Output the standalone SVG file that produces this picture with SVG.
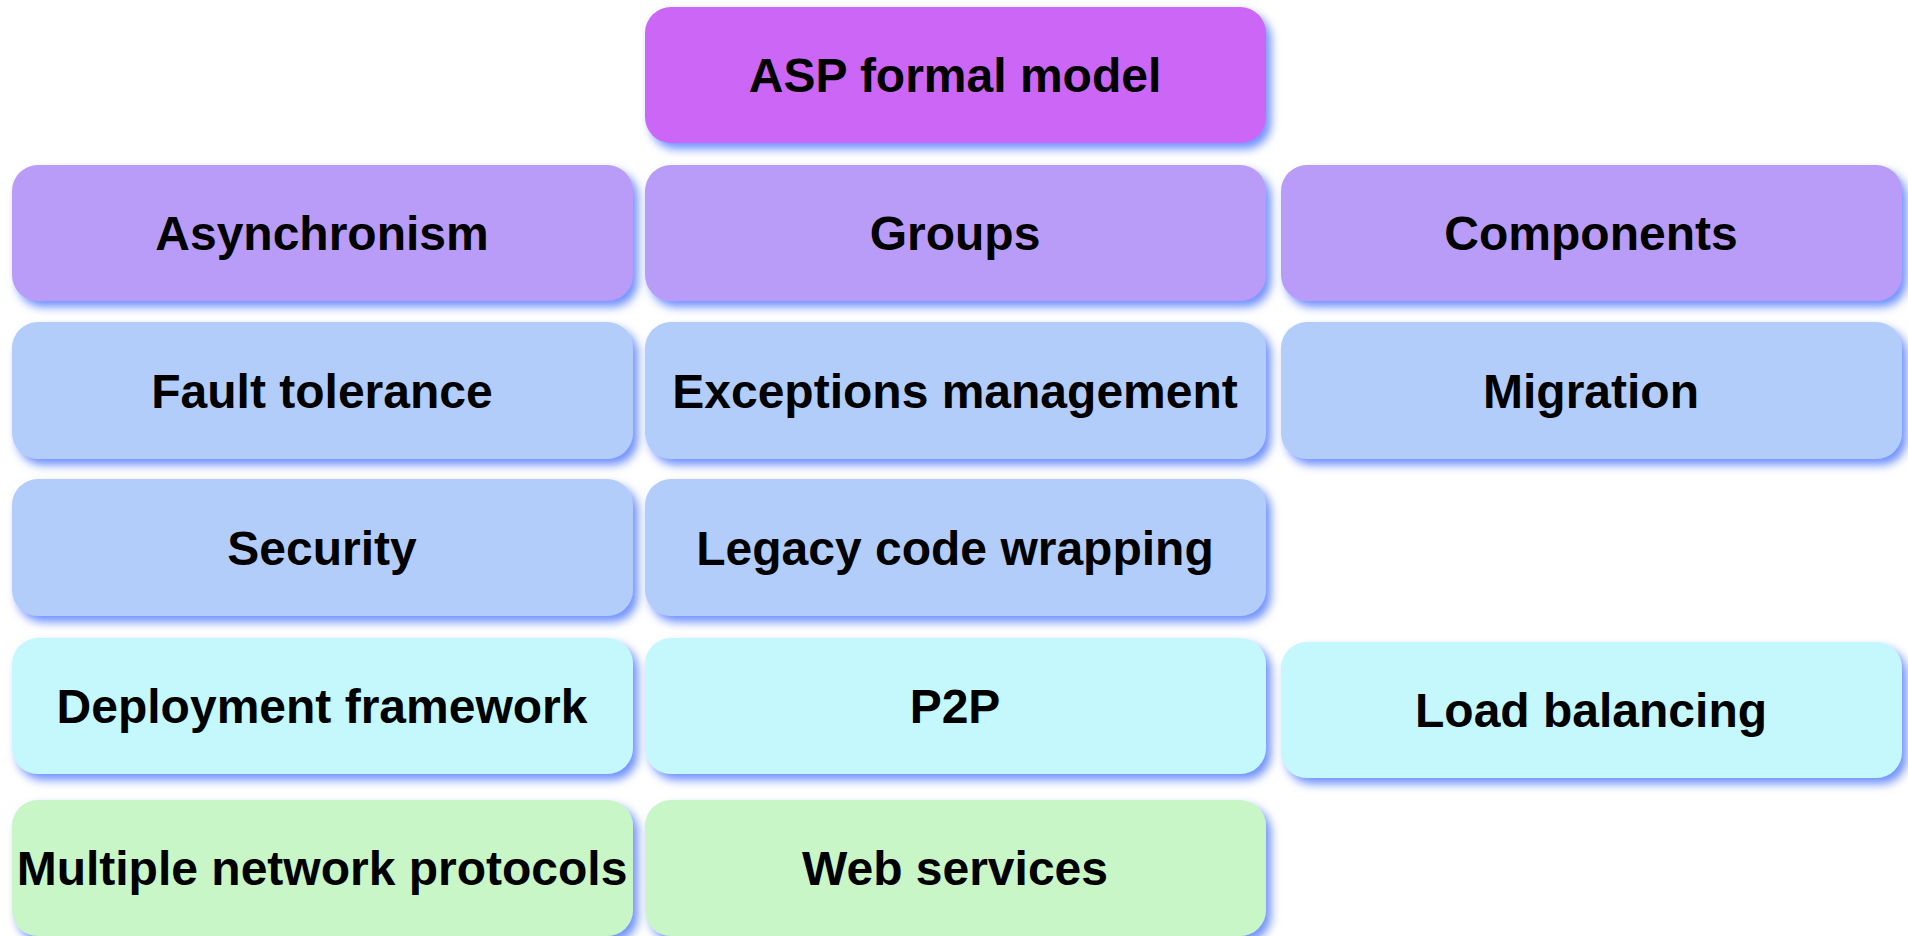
<svg xmlns="http://www.w3.org/2000/svg" width="1908" height="936" viewBox="0 0 1908 936">
  <defs>
    <!-- soft blue drop shadow shared by every box -->
    <filter id="shade" x="-5%" y="-10%" width="112%" height="130%">
      <feGaussianBlur in="SourceAlpha" stdDeviation="5" result="b"/>
      <feOffset in="b" dx="5" dy="6" result="o"/>
      <feFlood flood-color="#5f84ff" flood-opacity="0.9"/>
      <feComposite in2="o" operator="in" result="s"/>
      <feMerge>
        <feMergeNode in="s"/>
        <feMergeNode in="SourceGraphic"/>
      </feMerge>
    </filter>
  </defs>
  <style>
    .box { filter: url(#shade); }
    .lbl { font-family: "Liberation Sans", Arial, sans-serif; font-weight: bold; font-size: 48px; fill: #000; text-anchor: middle; }
    .top { fill: #cc66f6; }
    .l1 { fill: #b99cf8; }
    .l2 { fill: #b3cdfb; }
    .l3 { fill: #c4f8fd; }
    .l4 { fill: #c8f6c6; }
  </style>
  <rect width="1908" height="936" fill="#ffffff"/>

  <g id="asp-formal-model">
    <rect class="box top" x="645" y="7" width="621" height="136" rx="26"/>
    <text class="lbl" x="955" y="92">ASP formal model</text>
  </g>

  <g id="asynchronism">
    <rect class="box l1" x="12" y="165" width="621" height="136" rx="26"/>
    <text class="lbl" x="322" y="250">Asynchronism</text>
  </g>
  <g id="groups">
    <rect class="box l1" x="645" y="165" width="621" height="136" rx="26"/>
    <text class="lbl" x="955" y="250">Groups</text>
  </g>
  <g id="components">
    <rect class="box l1" x="1281" y="165" width="621" height="136" rx="26"/>
    <text class="lbl" x="1591" y="250">Components</text>
  </g>

  <g id="fault-tolerance">
    <rect class="box l2" x="12" y="322" width="621" height="137" rx="26"/>
    <text class="lbl" x="322" y="408">Fault tolerance</text>
  </g>
  <g id="exceptions-management">
    <rect class="box l2" x="645" y="322" width="621" height="137" rx="26"/>
    <text class="lbl" x="955" y="408">Exceptions management</text>
  </g>
  <g id="migration">
    <rect class="box l2" x="1281" y="322" width="621" height="137" rx="26"/>
    <text class="lbl" x="1591" y="408">Migration</text>
  </g>

  <g id="security">
    <rect class="box l2" x="12" y="479" width="621" height="137" rx="26"/>
    <text class="lbl" x="322" y="565">Security</text>
  </g>
  <g id="legacy-code-wrapping">
    <rect class="box l2" x="645" y="479" width="621" height="137" rx="26"/>
    <text class="lbl" x="955" y="565">Legacy code wrapping</text>
  </g>

  <g id="deployment-framework">
    <rect class="box l3" x="12" y="638" width="621" height="136" rx="26"/>
    <text class="lbl" x="322" y="723">Deployment framework</text>
  </g>
  <g id="p2p">
    <rect class="box l3" x="645" y="638" width="621" height="136" rx="26"/>
    <text class="lbl" x="955" y="723">P2P</text>
  </g>
  <g id="load-balancing">
    <rect class="box l3" x="1281" y="642" width="621" height="136" rx="26"/>
    <text class="lbl" x="1591" y="727">Load balancing</text>
  </g>

  <g id="multiple-network-protocols">
    <rect class="box l4" x="12" y="800" width="621" height="136" rx="26"/>
    <text class="lbl" x="322" y="885">Multiple network protocols</text>
  </g>
  <g id="web-services">
    <rect class="box l4" x="645" y="800" width="621" height="136" rx="26"/>
    <text class="lbl" x="955" y="885">Web services</text>
  </g>

  <g id="connectors"/>
</svg>
